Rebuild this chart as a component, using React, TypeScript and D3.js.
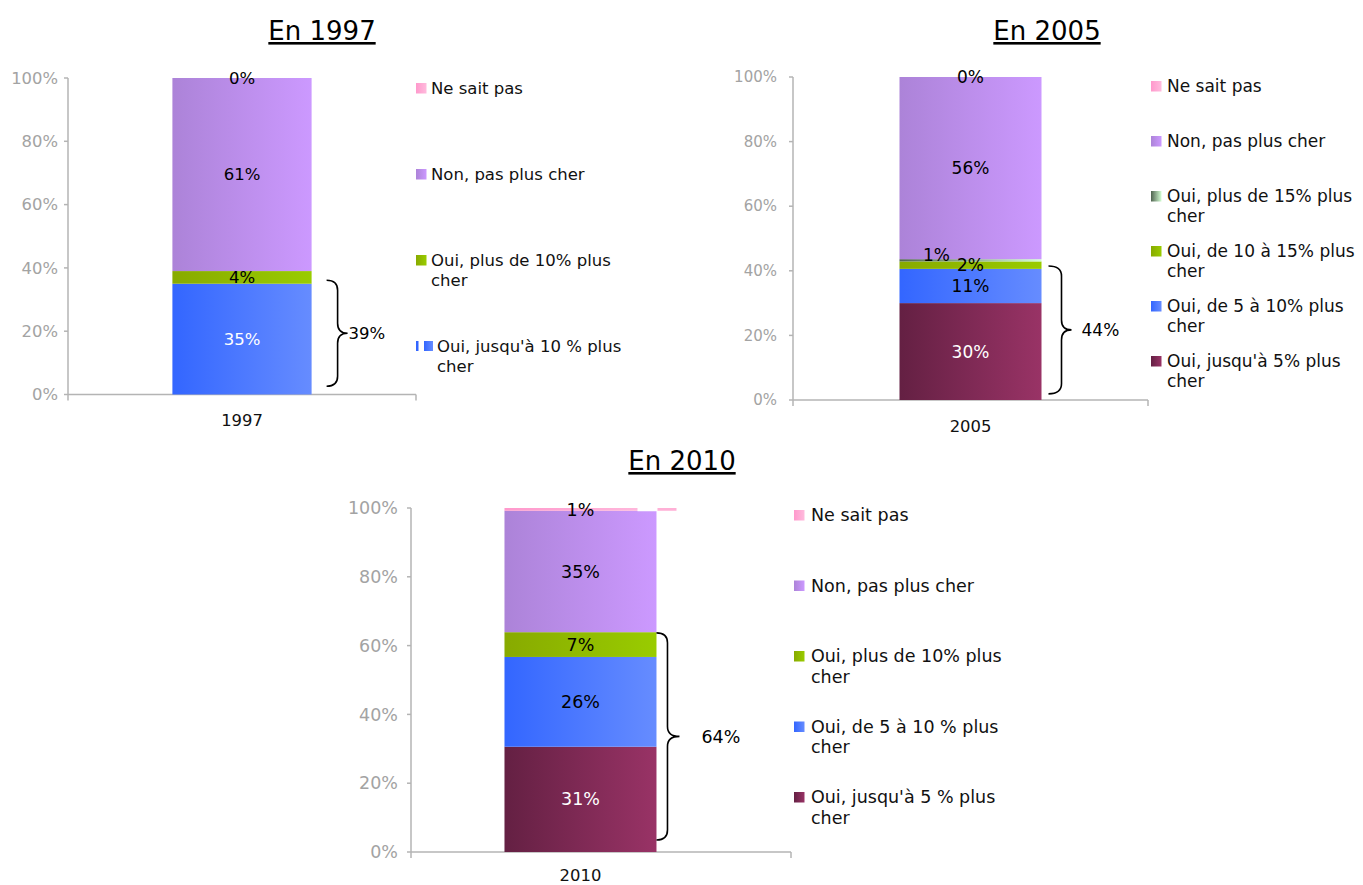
import React from 'react'
import * as d3 from 'd3'

// 1997 survey
const SERIES_1997 = ["Oui, jusqu'à 10 % plus cher", 'Oui, plus de 10% plus cher', 'Non, pas plus cher', 'Ne sait pas']
const VALUES_1997 = [35, 4, 61, 0]
const FILLS_1997 = ['blue', 'green', 'purple', 'pink']

// 2005 survey
const SERIES_2005 = [
  "Oui, jusqu'à 5% plus cher",
  'Oui, de 5 à 10% plus cher',
  'Oui, de 10 à 15% plus cher',
  'Oui, plus de 15% plus cher',
  'Non, pas plus cher',
  'Ne sait pas',
]
const VALUES_2005 = [30, 10.6, 2.3, 0.7, 56.4, 0]
const FILLS_2005 = ['maroon', 'blue', 'green', 'darkgreen', 'purple', 'pink']

// 2010 survey
const SERIES_2010 = [
  "Oui, jusqu'à 5 % plus cher",
  'Oui, de 5 à 10 % plus cher',
  'Oui, plus de 10% plus cher',
  'Non, pas plus cher',
  'Ne sait pas',
]
const VALUES_2010 = [30.6, 26.1, 7.2, 35.3, 0.8]
const FILLS_2010 = ['maroon', 'blue', 'green', 'purple', 'pink']

const GRADIENTS = {
  maroon: ['#642043', '#993366'],
  blue: ['#3366ff', '#668cff'],
  green: ['#88aa00', '#99cc00'],
  darkgreen: ['#4f634f', '#d4ffd4'],
  purple: ['#ac83d8', '#cc99ff'],
  pink: ['#ff99cc', '#ffbbdd'],
}

const FONT = 'Verdana, "DejaVu Sans", sans-serif'
const pct = d3.format('.0%')

const panels = [
  {
    key: 'p1997', title: 'En 1997', titleX: 322, titleY: 40, category: '1997',
    series: SERIES_1997, values: VALUES_1997, fills: FILLS_1997, whiteLabels: [0],
    axisX: 68, axisEnd: 416, y0: 394.5, y100: 78, align: 0.5, tickPad: 6,
    tickFont: 16.4, labelFont: 16.5, legendFont: 16.5, catY: 420,
    legendX: 416, textX: 431, legendTop: 88, legendStep: 86, splitMarker: 0,
    braced: 2, braceFrom: 0.026, braceTo: 0.361, braceGap: 15, braceV: 11, braceTip: 21, braceLabel: 1,
  },
  {
    key: 'p2005', title: 'En 2005', titleX: 1047, titleY: 40, category: '2005',
    series: SERIES_2005, values: VALUES_2005, fills: FILLS_2005, whiteLabels: [0],
    axisX: 793, axisEnd: 1148, y0: 400, y100: 77, align: 0.5, tickPad: 12,
    tickFont: 15, labelFont: 17, legendFont: 17, catY: 426,
    legendX: 1151, textX: 1167, legendTop: 86, legendStep: 55, splitMarker: -1,
    braced: 4, braceFrom: 0.019, braceTo: 0.415, braceGap: 7, braceV: 13, braceTip: 23, braceLabel: 10,
    labelShift: { 3: [-34, -5] },
  },
  {
    key: 'p2010', title: 'En 2010', titleX: 682, titleY: 470, category: '2010',
    series: SERIES_2010, values: VALUES_2010, fills: FILLS_2010, whiteLabels: [0],
    axisX: 411, axisEnd: 791, y0: 852, y100: 508, align: 0.41, tickPad: 9,
    tickFont: 17.5, labelFont: 17.5, legendFont: 17.5, catY: 875,
    legendX: 794, textX: 811, legendTop: 515, legendStep: 70.5, splitMarker: -1,
    braced: 3, braceFrom: 0.035, braceTo: 0.637, braceGap: 0, braceV: 11, braceTip: 23, braceLabel: 22,
    pinkTail: true,
  },
]

function bracePath(x0, xv, xt, yt, yb) {
  const ym = (yt + yb) / 2
  const r = 10
  return `M${x0},${yt} Q${xv},${yt} ${xv},${yt + r} L${xv},${ym - r} Q${xv},${ym} ${xt},${ym} ` +
    `Q${xv},${ym} ${xv},${ym + r} L${xv},${yb - r} Q${xv},${yb} ${x0},${yb}`
}

function wrapLabel(name) {
  if (!name.startsWith('Oui')) return [name]
  const i = name.lastIndexOf(' ')
  return [name.slice(0, i), name.slice(i + 1)]
}

function Panel({ p }) {
  const y = d3.scaleLinear().domain([0, 1]).range([p.y0, p.y100])
  const x = d3.scaleBand().domain([p.category]).range([p.axisX, p.axisEnd])
    .paddingInner(0.6).paddingOuter(0.3).align(p.align)
  const stack = d3.stack().keys(p.series.map((_, i) => i))
  const row = {}
  p.values.forEach((v, i) => { row[i] = v / 100 })
  const layers = stack([row])
  const bx = x(p.category)
  const bw = x.bandwidth()
  const braceTotal = d3.sum(p.values.slice(0, p.braced))
  const bx0 = bx + bw + p.braceGap

  return (
    <g>
      <text x={p.titleX} y={p.titleY} textAnchor="middle" fontSize={26} fontFamily={FONT}
        textDecoration="underline" fill="#000">{p.title}</text>

      {/* y axis */}
      <line x1={p.axisX} x2={p.axisX} y1={y(1)} y2={y(0) + 6} stroke="#b4b4b4" strokeWidth={1.5} />
      {y.ticks(5).map(t => (
        <g key={t}>
          <line x1={p.axisX - 4} x2={p.axisX} y1={y(t)} y2={y(t)} stroke="#b4b4b4" strokeWidth={1.5} />
          <text x={p.axisX - 4 - p.tickPad} y={y(t)} dy="0.35em" textAnchor="end"
            fontSize={p.tickFont} fontFamily={FONT} fill="#a3a3a3">{pct(t)}</text>
        </g>
      ))}
      {/* x axis */}
      <line x1={p.axisX} x2={p.axisEnd} y1={y(0)} y2={y(0)} stroke="#b4b4b4" strokeWidth={1.5} />
      <line x1={p.axisEnd} x2={p.axisEnd} y1={y(0)} y2={y(0) + 6} stroke="#b4b4b4" strokeWidth={1.5} />
      <text x={bx + bw / 2} y={p.catY} dy="0.35em" textAnchor="middle" fontSize={16.4}
        fontFamily={FONT} fill="#111">{p.category}</text>

      {/* stacked bar */}
      {layers.map((l, i) => {
        const [s0, s1] = l[0]
        return (
          <rect key={i} x={bx} width={bw} y={y(s1)} height={Math.max(0, y(s0) - y(s1))}
            fill={`url(#g-${p.fills[i]})`} />
        )
      })}
      {p.pinkTail && (() => {
        const l = layers[layers.length - 1][0]
        return (
          <>
            <rect x={bx + bw - 19} width={20} y={y(l[1]) - 0.5} height={y(l[0]) - y(l[1]) + 1} fill="#fff" />
            <rect x={bx + bw + 1} width={19} y={y(l[1])} height={y(l[0]) - y(l[1])} fill="#ffb0d6" />
          </>
        )
      })()}
      {layers.map((l, i) => {
        const [s0, s1] = l[0]
        const shift = (p.labelShift && p.labelShift[i]) || [0, 0]
        return (
          <text key={i} x={bx + bw / 2 + shift[0]} y={(y(s0) + y(s1)) / 2 + shift[1]} dy="0.35em"
            textAnchor="middle" fontSize={p.labelFont} fontFamily={FONT}
            fill={p.whiteLabels.includes(i) ? '#fff' : '#000'}>
            {Math.round(p.values[i]) + '%'}
          </text>
        )
      })}

      {/* brace */}
      <path d={bracePath(bx0, bx0 + p.braceV, bx0 + p.braceTip, y(p.braceTo), y(p.braceFrom))}
        fill="none" stroke="#000" strokeWidth={1.6} />
      <text x={bx0 + p.braceTip + p.braceLabel} y={(y(p.braceTo) + y(p.braceFrom)) / 2} dy="0.35em"
        fontSize={p.labelFont} fontFamily={FONT} fill="#000">{Math.round(braceTotal) + '%'}</text>

      {/* legend */}
      {p.series.map((name, i) => {
        const idx = p.series.length - 1 - i
        const ly = p.legendTop + i * p.legendStep
        const lines = wrapLabel(p.series[idx])
        const split = p.splitMarker === idx
        const tx = p.textX + (split ? 6 : 0)
        return (
          <g key={name}>
            {split ? (
              <>
                <rect x={p.legendX} y={ly - 5} width={2.5} height={10} fill={GRADIENTS[p.fills[idx]][0]} />
                <rect x={p.legendX + 8} y={ly - 5} width={9} height={10} fill={`url(#g-${p.fills[idx]})`} />
              </>
            ) : (
              <rect x={p.legendX} y={ly - 5} width={10.5} height={10.5} fill={`url(#g-${p.fills[idx]})`} />
            )}
            <text x={tx} y={ly} fontSize={p.legendFont} fontFamily={FONT} fill="#111">
              {lines.map((t, j) => (
                <tspan key={j} x={tx} dy={j === 0 ? '0.35em' : 20.5}>{t}</tspan>
              ))}
            </text>
          </g>
        )
      })}
    </g>
  )
}

export default function App() {
  return (
    <svg width={1363} height={885} style={{ position: 'absolute', left: 0, top: 0, background: '#fff' }}>
      <defs>
        {Object.entries(GRADIENTS).map(([k, [c0, c1]]) => (
          <linearGradient key={k} id={`g-${k}`} x1="0" x2="1" y1="0" y2="0">
            <stop offset="0" stopColor={c0} />
            <stop offset="1" stopColor={c1} />
          </linearGradient>
        ))}
      </defs>
      {panels.map(p => <Panel key={p.key} p={p} />)}
    </svg>
  )
}
